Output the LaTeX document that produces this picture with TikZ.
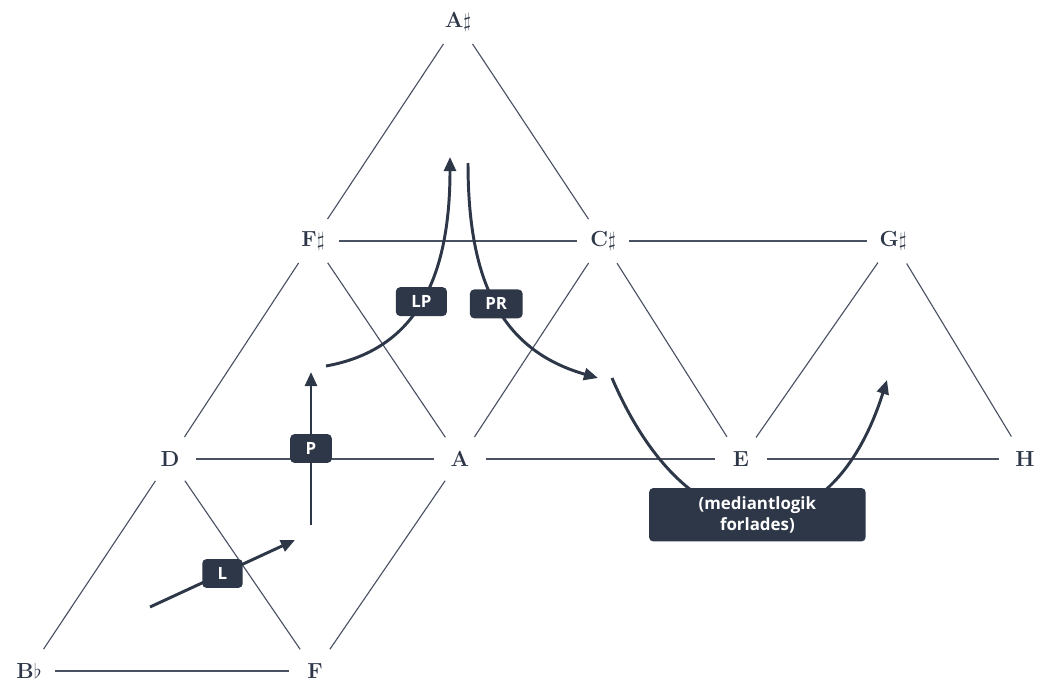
\documentclass[tikz,border=0pt]{standalone}
\usepackage{fontspec}
\setsansfont{Open Sans}
\usetikzlibrary{arrows.meta}

\definecolor{ink}{HTML}{2D3748}
\definecolor{gridline}{HTML}{4A5163}

\begin{document}
\begin{tikzpicture}[x = 0.025cm, y = -0.025cm,
        note/.style = {circle, minimum size = 1.3cm, inner sep = 0pt, text = ink, font = \fontsize{15.5}{18}\selectfont\bfseries},
        edge/.style = {draw = gridline, line width = 0.8pt},
        move/.style = {draw = ink, line width = 2.1pt, -{Triangle[length = 10pt, width = 8.5pt]}},
        opbox/.style = {fill = ink, text = white, rounded corners = 3pt, inner xsep = 11pt,
                        minimum height = 20.5pt, font = \sffamily\bfseries\fontsize{12}{15}\selectfont}]

                    \useasboundingbox (0,0) rectangle (1037,684);

                    % the notes of the lattice
                    \foreach \n/\x/\y/\t in {ais/458/22/A$\sharp$, fis/313/241/F$\sharp$, cis/603/241/C$\sharp$,
                                             gis/893/241/G$\sharp$, d/170/459/D, a/460/459/A, e/741/459/E,
                                             h/1025/459/H, bes/29/671/B$\flat$, f/315/671/F}
                    \node[note] (\n) at (\x,\y) {\t};

                    \foreach \u/\v in {ais/fis, ais/cis, fis/cis, cis/gis, fis/d, fis/a, cis/a, cis/e,
                                       gis/e, gis/h, d/a, a/e, e/h, d/bes, d/f, a/f, bes/f}
                    \draw[edge] (\u) -- (\v);

                    % ends of the moves
                    \coordinate (l0) at (150,607);  \coordinate (l1) at (295,540);
                    \coordinate (p0) at (311,525);  \coordinate (p1) at (311,372);
                    \coordinate (lp0) at (326,366); \coordinate (lp1) at (450,157);
                    \coordinate (pr0) at (468,163); \coordinate (pr1) at (598,378);
                    \coordinate (m0) at (612,378);  \coordinate (m1) at (887,380);

                    \draw[move] (l0) -- (l1) node[opbox, pos = 0.5] {L};
                    \draw[move] (p0) -- (p1) node[opbox, pos = 0.5] {P};
                    \draw[move] (lp0) .. controls (415,350) and (450,280) .. (lp1) node[opbox, pos = 0.5] {LP};
                    \draw[move] (pr0) .. controls (468,280) and (500,350) .. (pr1) node[opbox, pos = 0.5] {PR};
                    \draw[move] (m0) .. controls (690,560) and (830,560) .. (m1)
                        node[opbox, pos = 0.5, minimum width = 154pt, minimum height = 38pt,
                             align = center, font = \sffamily\bfseries\fontsize{12}{15}\selectfont] {(mediantlogik\\forlades)};
                    % \draw[move] (m0) -- (m1);
                \end{tikzpicture}
\end{document}
